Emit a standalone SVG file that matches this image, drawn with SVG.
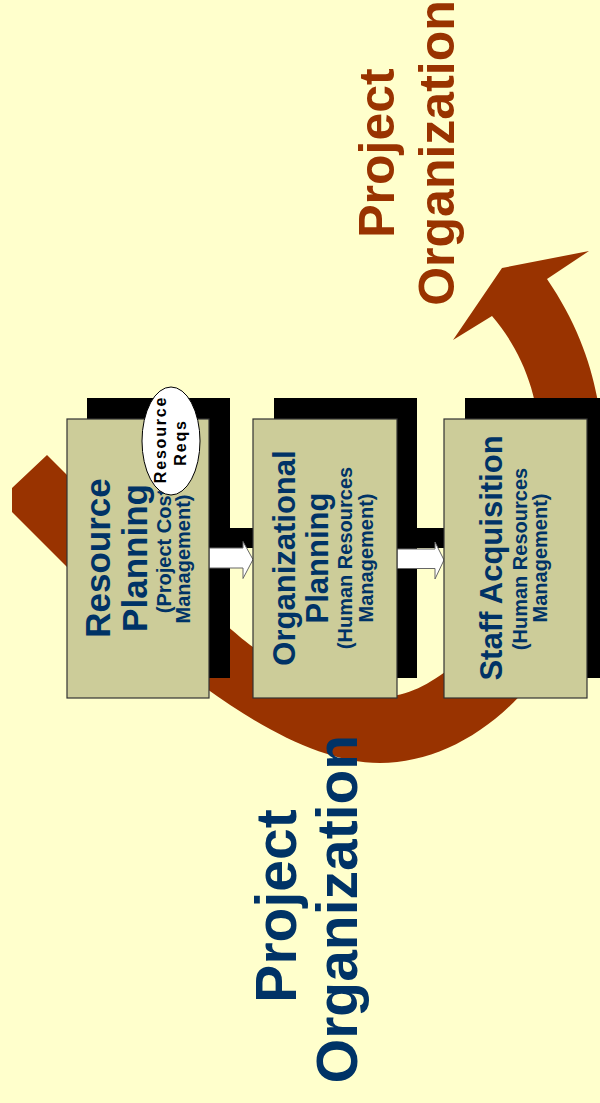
<svg xmlns="http://www.w3.org/2000/svg" width="600" height="1103" viewBox="0 0 600 1103">
<style>
.bg{fill:#FFFFCC}
.swoosh{fill:#993300}
.shadow{fill:#000000}
.box{fill:#CCCC99;stroke:#333333;stroke-width:1.2}
.arrow{fill:#FFFFFF;stroke:#666666;stroke-width:1}
.t{font-family:"Liberation Sans",Arial,sans-serif;font-weight:bold;text-anchor:middle}
.navy{fill:#003366}
.brown{fill:#993300}
.big{font-size:35px}
.mid{font-size:31px}
.small{font-size:20px}
.title{font-size:57px}
.title2{font-size:50px}
.req{font-size:16px;letter-spacing:1.8px;fill:#000000}
</style>
<rect class="bg" x="0" y="0" width="600" height="1103"/>
<g id="cycle-arrow">
<path class="swoosh" d="M 12,512 L 67,567 C 150,650 280,763 380,763 C 460,763 540,700 580,600 C 600,540 610,460 597,397 C 590,360 575,320 547,279 L 589,251 L 502,268 L 453,340 L 492,316 C 530,360 555,430 530,520 C 515,610 470,655 445,672 C 420,690 400,698 370,698 C 330,698 290,675 253,647 C 225,627 140,545 67,475 L 47,455 L 12,488 Z"/>
</g>
<g id="shadows">
<rect class="shadow" x="87" y="398" width="143" height="280"/>
<rect class="shadow" x="274" y="398" width="143" height="280"/>
<rect class="shadow" x="465" y="398" width="143" height="280"/>
</g>
<g id="connectors">
<rect class="shadow" x="229" y="528" width="46" height="20"/>
<rect class="shadow" x="416" y="528" width="50" height="20"/>
<polygon class="arrow" points="209,548 243,548 243,541.5 253,559.5 243,578.5 243,568 209,568"/>
<polygon class="arrow" points="397,549 435,549 435,542 444,560 435,579 435,568.5 397,568.5"/>
</g>
<g id="resource-planning">
<rect class="box" x="67" y="419" width="142" height="279"/>
<text class="t navy big" transform="translate(110,558) rotate(-90)">Resource</text>
<text class="t navy big" transform="translate(147,558) rotate(-90)">Planning</text>
<text class="t navy small" transform="translate(171,551) rotate(-90)">(Project Cost</text>
<text class="t navy small" transform="translate(190,559) rotate(-90)">Management)</text>
</g>
<g id="resource-reqs">
<ellipse cx="171" cy="441" rx="29" ry="54" fill="#FFFFFF" stroke="#000000" stroke-width="1"/>
<text class="t req" transform="translate(166,439.5) rotate(-90)">Resource</text>
<text class="t req" transform="translate(186,442.5) rotate(-90)">Reqs</text>
</g>
<g id="organizational-planning">
<rect class="box" x="253" y="419" width="144" height="279"/>
<text class="t navy mid" transform="translate(295,558) rotate(-90)">Organizational</text>
<text class="t navy mid" transform="translate(328,558) rotate(-90)">Planning</text>
<text class="t navy small" transform="translate(352,558) rotate(-90)">(Human Resources</text>
<text class="t navy small" transform="translate(373,558) rotate(-90)">Management)</text>
</g>
<g id="staff-acquisition">
<rect class="box" x="444" y="419" width="143" height="279"/>
<text class="t navy mid" transform="translate(502,558) rotate(-90)">Staff Acquisition</text>
<text class="t navy small" transform="translate(527,559) rotate(-90)">(Human Resources</text>
<text class="t navy small" transform="translate(547,558) rotate(-90)">Management)</text>
</g>
<g id="label-bottom">
<text class="t navy title" transform="translate(296,906) rotate(-90)">Project</text>
<text class="t navy title" transform="translate(357,909) rotate(-90)">Organization</text>
</g>
<g id="label-top">
<text class="t brown title2" transform="translate(394,153) rotate(-90)">Project</text>
<text class="t brown title2" transform="translate(454,153) rotate(-90)">Organization</text>
</g>
</svg>
